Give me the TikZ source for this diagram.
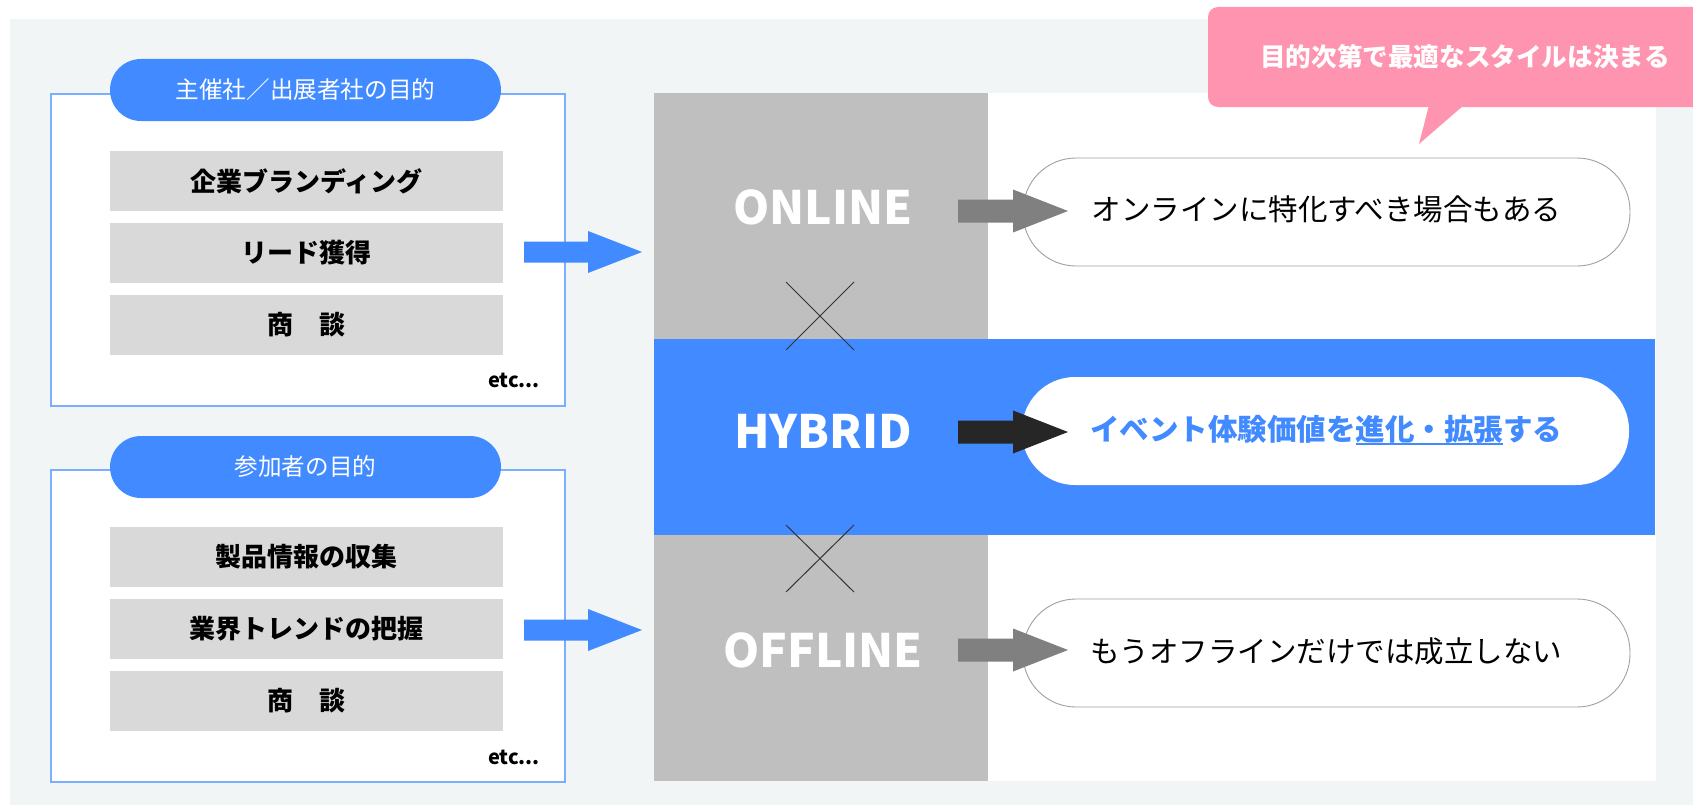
\documentclass[tikz,border=0pt]{standalone}
\usepackage{fontspec}
\setmainfont{Noto Sans CJK JP}
\definecolor{bgc}{HTML}{F1F5F6}
\definecolor{blu}{HTML}{418AFF}
\definecolor{bline}{HTML}{7AAEFF}
\definecolor{barc}{HTML}{D9D9D9}
\definecolor{colc}{HTML}{BFBFBF}
\definecolor{pnk}{HTML}{FF94B0}
\definecolor{arrg}{HTML}{808080}
\definecolor{arrk}{HTML}{262626}
\definecolor{pillb}{HTML}{A0A0A0}
\definecolor{xcol}{HTML}{333333}
\newcommand\myul[1]{\setbox0\hbox{#1}\rlap{#1}\raisebox{-4pt}{\rule{\wd0}{1.8pt}}}
\begin{document}
\begin{tikzpicture}[x=1pt,y=-1pt,
  every node/.style={inner sep=0pt,outer sep=0pt},
  goalbox/.style={draw=bline,line width=1.5pt,fill=white,minimum width=514,minimum height=312},
  goalpill/.style={fill=blu,rounded corners=31pt,minimum width=391,minimum height=62,text=white,font=\fontsize{23.6}{27}\selectfont},
  itembar/.style={fill=barc,minimum width=393,minimum height=60,font=\bfseries\fontsize{26}{30}\selectfont},
  etcnode/.style={anchor=east,font=\bfseries\fontsize{20}{24}\selectfont},
  modelabel/.style={text=white,font=\bfseries\fontsize{46}{52}\selectfont},
  respill/.style={draw=pillb,line width=0.9pt,fill=white,rounded corners=53pt,minimum width=607,minimum height=108},
  restext/.style={font=\fontsize{29.5}{34}\selectfont},
  crossline/.style={draw=xcol,line width=1pt}]
\useasboundingbox (0,0) rectangle (1693,808);
\begin{scope}
\clip (0,0) rectangle (1693,808);
\fill[white] (0,0) rectangle (1693,808);
\fill[bgc] (10,19) rectangle (1693,805);

% left boxes
\node[goalbox] (box1) at (308,250) {};
\node[goalpill] (pill1) at (305.5,90) {主催社／出展者社の目的};
\node[itembar] (b11) at (306.5,181) {企業ブランディング};
\node[itembar] (b12) at (306.5,253) {リード獲得};
\node[itembar] (b13) at (306.5,325) {商　談};
\node[etcnode] (etc1) at (540,380) {etc...};

\node[goalbox] (box2) at (308,626) {};
\node[goalpill] (pill2) at (305.5,467) {参加者の目的};
\node[itembar] (b21) at (306.5,557) {製品情報の収集};
\node[itembar] (b22) at (306.5,629) {業界トレンドの把握};
\node[itembar] (b23) at (306.5,701) {商　談};
\node[etcnode] (etc2) at (540,757) {etc...};

% right panel
\fill[colc] (654,93) rectangle (988,781);
\fill[white] (988,93) rectangle (1656,781);
\fill[blu] (654,339) rectangle (1655,535);

\coordinate (a1) at (524,252);
\coordinate (a2) at (524,630);
\fill[blu] (a1) ++(0,-10.5) -- ++(64,0) -- ++(0,-10.5) -- ++(54,21) -- ++(-54,21) -- ++(0,-10.5) -- ++(-64,0) -- cycle;
\fill[blu] (a2) ++(0,-10.5) -- ++(64,0) -- ++(0,-10.5) -- ++(54,21) -- ++(-54,21) -- ++(0,-10.5) -- ++(-64,0) -- cycle;

\node[modelabel] (online) at (823,207) {ONLINE};
\node[modelabel] (hybrid) at (823,431) {HYBRID};
\node[modelabel] (offline) at (823,650) {OFFLINE};

\draw[crossline] (786,282) -- (854,350) (854,282) -- (786,350);
\draw[crossline] (786,525) -- (854,592) (854,525) -- (786,592);

\node[respill] (r1) at (1326.5,212) {};
\node[restext] (r1t) at (1326.5,209) {オンラインに特化すべき場合もある};
\node[respill,draw=none] (r2) at (1325.5,431) {};
\node[restext,text=blu,font=\bfseries\fontsize{29.5}{34}\selectfont] (r2t) at (1326,430) {イベント体験価値を\myul{進化・拡張}する};
\node[respill] (r3) at (1326.5,653) {};
\node[restext] (r3t) at (1326.5,651) {もうオフラインだけでは成立しない};

\coordinate (g1) at (958,211);
\coordinate (g2) at (958,432);
\coordinate (g3) at (958,650);
\fill[arrg] (g1) ++(0,-11.5) -- ++(55,0) -- ++(0,-10) -- ++(55,21.5) -- ++(-55,21.5) -- ++(0,-10) -- ++(-55,0) -- cycle;
\fill[arrk] (g2) ++(0,-11.5) -- ++(55,0) -- ++(0,-10) -- ++(55,21.5) -- ++(-55,21.5) -- ++(0,-10) -- ++(-55,0) -- cycle;
\fill[arrg] (g3) ++(0,-11.5) -- ++(55,0) -- ++(0,-10) -- ++(55,21.5) -- ++(-55,21.5) -- ++(0,-10) -- ++(-55,0) -- cycle;

% callout
\fill[pnk,rounded corners=10pt] (1208,7) rectangle (1720,107);
\fill[pnk] (1429,105) -- (1464,105) -- (1419,144) -- cycle;
\node[text=white,font=\bfseries\fontsize{25.6}{30}\selectfont] (call) at (1465,57) {目的次第で最適なスタイルは決まる};
\end{scope}
\end{tikzpicture}
\end{document}
